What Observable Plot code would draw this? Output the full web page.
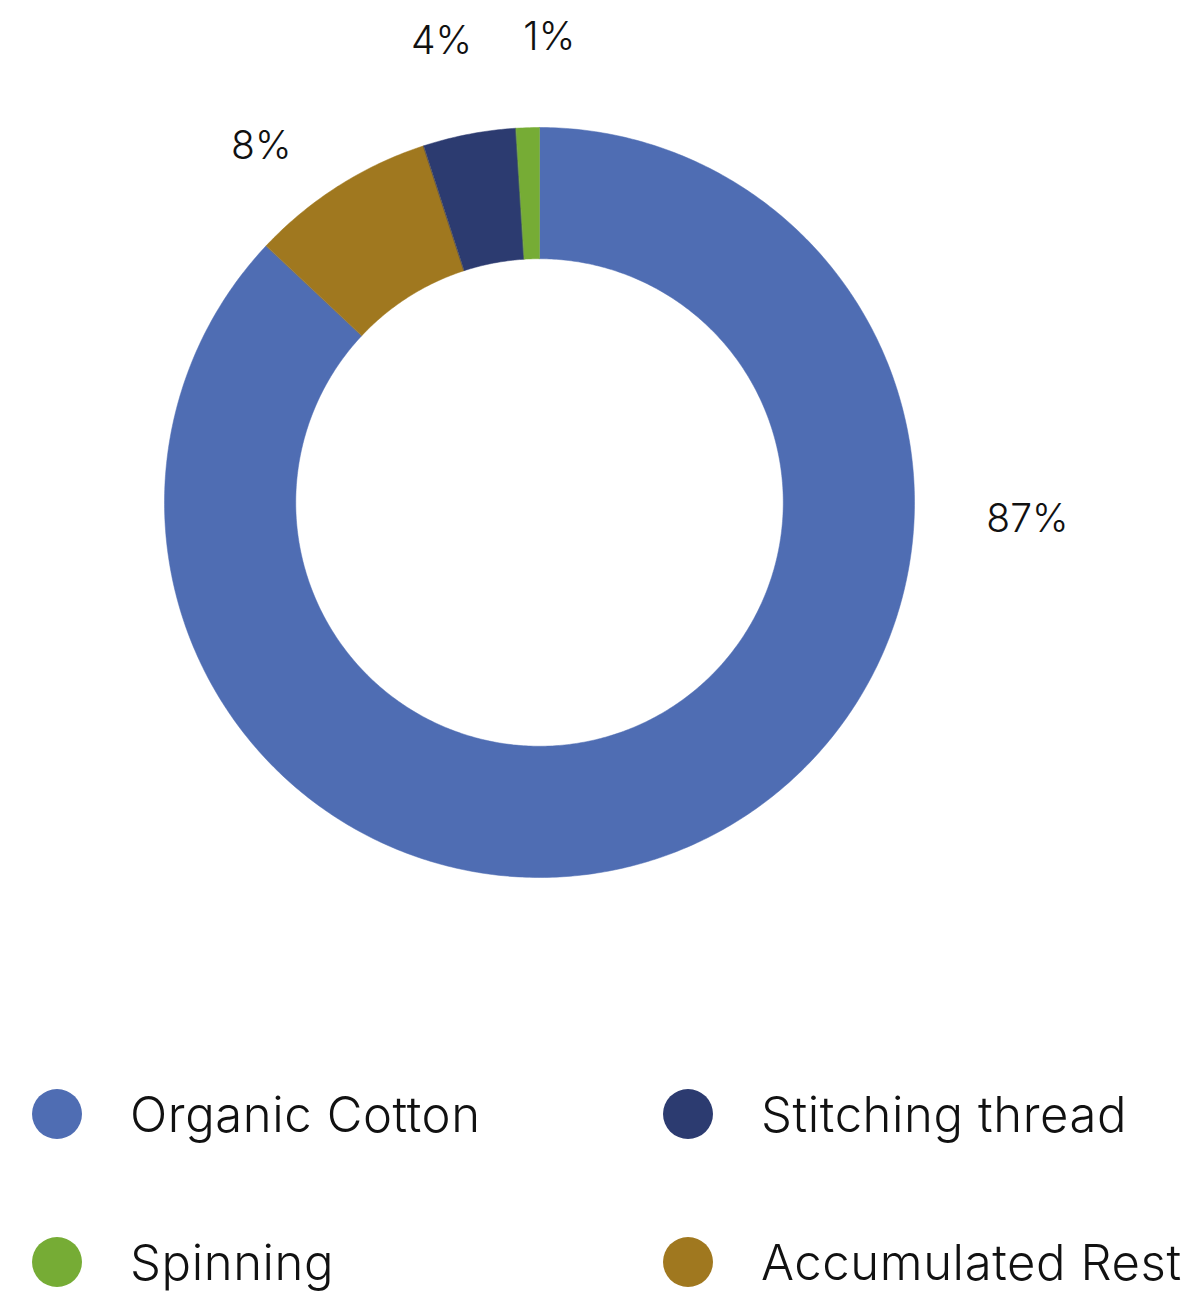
<!DOCTYPE html>
<html>
<head>
<meta charset="utf-8">
<script src="https://cdn.jsdelivr.net/npm/d3@7"></script>
<script src="https://cdn.jsdelivr.net/npm/@observablehq/plot@0.6"></script>
<style>
  html, body { margin: 0; padding: 0; background: #fff; }
  body { width: 1200px; height: 1293px; overflow: hidden; font-family: Inter, Lato, sans-serif; }
  #legend { display: grid; grid-template-columns: 631px 569px; grid-auto-rows: 148px; }
  .item { display: flex; align-items: center; font-size: 49px; color: #111; font-weight: 300; letter-spacing: 0.6px; }
  .sw { width: 50px; height: 50px; border-radius: 50%; margin-left: 32px; margin-right: 48px; flex: none; }
</style>
</head>
<body>
<div id="chart"></div>
<div id="legend"></div>
<script>
// Data (clockwise from 12 o'clock)
const categories = ["Organic Cotton", "Accumulated Rest", "Stitching thread", "Spinning"];
const shares = [87, 8, 4, 1];
const colors = ["#4F6DB3", "#A0781F", "#2C3B70", "#76AC35"];
const legendOrder = ["Organic Cotton", "Stitching thread", "Spinning", "Accumulated Rest"];

// Layout
const W = 1200, H = 1040, CX = 539, CY = 502, R = 375;
const inner = 0.65;
// label placement (angle in degrees clockwise from top, radius in units of outer radius)
const labelPlace = {
  "Organic Cotton": {a: 92, r: 1.302},
  "Accumulated Rest": {a: 322, r: 1.205},
  "Stitching thread": {a: 348, r: 1.258},
  "Spinning": {a: 1.2, r: 1.24}
};

const rows = categories.map((c, i) => ({category: c, value: shares[i]}));
const arcs = d3.pie().sort(null).value(d => d.value)(rows);

// polygon points for each slice
const pts = [];
for (const a of arcs) {
  const n = Math.max(4, Math.ceil((a.endAngle - a.startAngle) / 0.01));
  for (let k = 0; k <= n; k++) {
    const t = a.startAngle + (a.endAngle - a.startAngle) * k / n;
    pts.push({category: a.data.category, x: Math.sin(t), y: Math.cos(t)});
  }
  for (let k = n; k >= 0; k--) {
    const t = a.startAngle + (a.endAngle - a.startAngle) * k / n;
    pts.push({category: a.data.category, x: inner * Math.sin(t), y: inner * Math.cos(t)});
  }
}

const labels = arcs.map(a => {
  const p = labelPlace[a.data.category];
  const t = p.a * Math.PI / 180;
  return {category: a.data.category, text: a.data.value + "%", x: p.r * Math.sin(t), y: p.r * Math.cos(t)};
});

const chart = Plot.plot({
  width: W, height: H,
  margin: 0,
  x: {domain: [-CX / R, (W - CX) / R], axis: null},
  y: {domain: [-(H - CY) / R, CY / R], axis: null},
  color: {domain: categories, range: colors},
  style: {fontFamily: "Inter, Lato, sans-serif", background: "white"},
  marks: [
    Plot.line(pts, {x: "x", y: "y", z: "category", fill: "category", stroke: "category", strokeWidth: 0.5, curve: "linear-closed"}),
    Plot.text(labels, {x: "x", y: "y", text: "text", fontSize: 39, fontWeight: 300, fill: "#111", textAnchor: "middle", letterSpacing: 0.8})
  ]
});
document.getElementById("chart").appendChild(chart);

const legend = document.getElementById("legend");
for (const c of legendOrder) {
  const i = categories.indexOf(c);
  const el = document.createElement("div");
  el.className = "item";
  el.innerHTML = `<span class="sw" style="background:${colors[i]}"></span><span>${c}</span>`;
  legend.appendChild(el);
}
</script>
</body>
</html>
